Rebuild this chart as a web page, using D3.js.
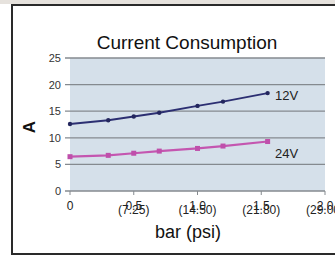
<!DOCTYPE html>
<html>
<head>
<meta charset="utf-8">
<script src="https://cdn.jsdelivr.net/npm/d3@7"></script>
<style>
  html, body { margin: 0; padding: 0; background: #fff; overflow: hidden; }
  svg { display: block; font-family: "Liberation Sans", Arial, sans-serif; }
</style>
</head>
<body>
<svg id="chart"></svg>
<script>
// Current Consumption chart
const pressure = [0, 0.3, 0.5, 0.7, 1.0, 1.2, 1.55];
const current12 = [12.6, 13.3, 14.0, 14.7, 16.0, 16.8, 18.4];
const current24 = [6.45, 6.7, 7.1, 7.5, 8.0, 8.45, 9.3];
const yTicks = [0, 5, 10, 15, 20, 25];
const xTicks = [0, 0.5, 1.0, 1.5, 2.0];
const barLabels = ["0", "0.5", "1.0", "1.5", "2.0"];
const psiLabels = ["", "(7.25)", "(14.50)", "(21.80)", "(29.00)"];

const width = 335, height = 259;
const svg = d3.select("#chart").attr("width", width).attr("height", height);

// frame
svg.append("rect").attr("x", 0).attr("y", 0).attr("width", width).attr("height", 4).attr("fill", "#e6e2dd");
svg.append("path")
    .attr("d", "M336,5 H12 V254 H336")
    .attr("fill", "none").attr("stroke", "#2a2a2a").attr("stroke-width", 2);

const x = d3.scaleLinear().domain([0, 2]).range([70, 325]);
const y = d3.scaleLinear().domain([0, 25]).range([191, 58]);

// plot background
svg.append("rect")
    .attr("x", x(0)).attr("y", y(25))
    .attr("width", x(2) - x(0)).attr("height", y(0) - y(25))
    .attr("fill", "#d5e0ea");

// grid lines
svg.append("g").selectAll("line")
    .data(yTicks)
    .join("line")
    .attr("x1", x(0) - 5).attr("x2", x(2))
    .attr("y1", d => y(d)).attr("y2", d => y(d))
    .attr("stroke", "#858a8f").attr("stroke-width", 1.3);

// y tick labels
svg.append("g").selectAll("text")
    .data(yTicks)
    .join("text")
    .attr("x", x(0) - 9).attr("y", d => y(d) + 4)
    .attr("text-anchor", "end")
    .attr("font-size", 11).attr("fill", "#333")
    .text(d => d);

// x ticks
svg.append("g").selectAll("line")
    .data(xTicks)
    .join("line")
    .attr("x1", d => x(d)).attr("x2", d => x(d))
    .attr("y1", y(0)).attr("y2", y(0) + 4)
    .attr("stroke", "#858a8f");

svg.append("g").selectAll("text")
    .data(xTicks)
    .join("text")
    .attr("x", d => x(d)).attr("y", 210)
    .attr("text-anchor", "middle")
    .attr("font-size", 12).attr("fill", "#222")
    .text((d, i) => barLabels[i]);

svg.append("g").selectAll("text")
    .data(xTicks)
    .join("text")
    .attr("x", d => x(d)).attr("y", 214)
    .attr("text-anchor", "middle")
    .attr("font-size", 12).attr("fill", "#222")
    .text((d, i) => psiLabels[i]);

// series
const line = d3.line().x(d => x(d[0])).y(d => y(d[1]));
const s12 = pressure.map((p, i) => [p, current12[i]]);
const s24 = pressure.map((p, i) => [p, current24[i]]);

svg.append("path").datum(s12).attr("d", line)
    .attr("fill", "none").attr("stroke", "#2c2f72").attr("stroke-width", 2);
svg.append("g").selectAll("circle")
    .data(s12)
    .join("circle")
    .attr("cx", d => x(d[0])).attr("cy", d => y(d[1])).attr("r", 2.2)
    .attr("fill", "#23265e");

svg.append("path").datum(s24).attr("d", line)
    .attr("fill", "none").attr("stroke", "#c456b0").attr("stroke-width", 2.2);
svg.append("g").selectAll("rect")
    .data(s24)
    .join("rect")
    .attr("x", d => x(d[0]) - 2.5).attr("y", d => y(d[1]) - 2.5)
    .attr("width", 5).attr("height", 5)
    .attr("fill", "#bf4fab");

// series labels
svg.append("text").attr("x", 275).attr("y", 100)
    .attr("font-size", 13).attr("fill", "#222").text("12V");
svg.append("text").attr("x", 275).attr("y", 158)
    .attr("font-size", 13).attr("fill", "#222").text("24V");

// titles
svg.append("text").attr("x", 187).attr("y", 49)
    .attr("text-anchor", "middle").attr("font-size", 19).attr("fill", "#111")
    .text("Current Consumption");
svg.append("text").attr("x", 188).attr("y", 238)
    .attr("text-anchor", "middle").attr("font-size", 18).attr("fill", "#111")
    .text("bar (psi)");
svg.append("text")
    .attr("transform", "translate(35,127) rotate(-90)")
    .attr("text-anchor", "middle").attr("font-size", 17).attr("font-weight", "bold")
    .attr("fill", "#111")
    .text("A");
</script>
</body>
</html>
